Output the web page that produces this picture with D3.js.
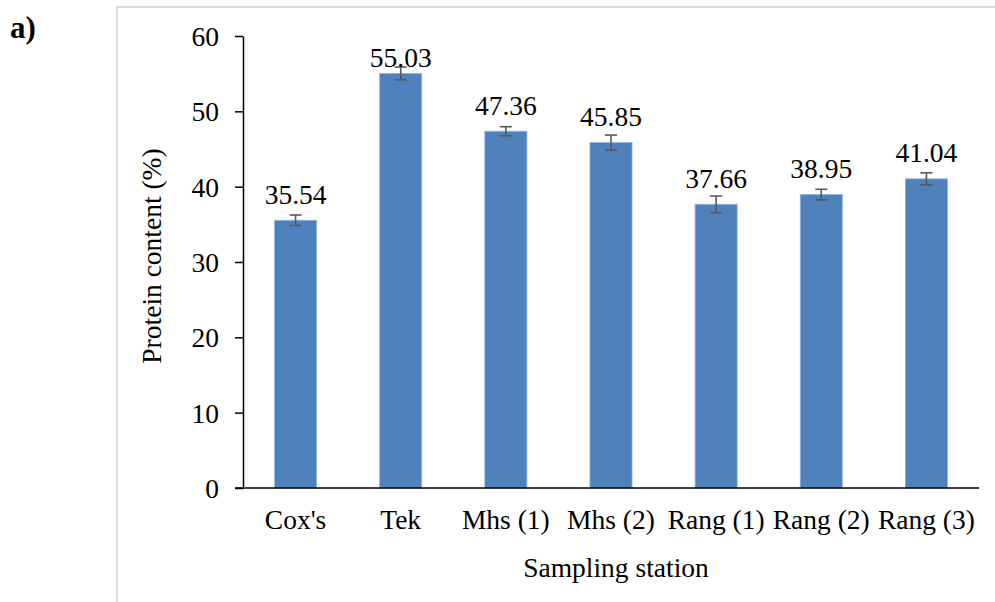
<!DOCTYPE html>
<html>
<head>
<meta charset="utf-8">
<script src="https://cdn.jsdelivr.net/npm/d3@7"></script>
<style>
  body { margin: 0; background: #fff; }
</style>
</head>
<body>
<div id="wrapper"></div>
<script>
var stations = ["Cox's", "Tek", "Mhs (1)", "Mhs (2)", "Rang (1)", "Rang (2)", "Rang (3)"];
var protein = [35.54, 55.03, 47.36, 45.85, 37.66, 38.95, 41.04];
var errors = [0.7, 0.85, 0.6, 1.0, 1.1, 0.7, 0.8];
var yTicks = [0, 10, 20, 30, 40, 50, 60];

var FONT = "'Liberation Serif', 'DejaVu Serif', 'Times New Roman', serif";
var FS = 27.5;
var W = 995, H = 602;
var svg = d3.select('#wrapper')
  .append('svg')
  .attr('width', W)
  .attr('height', H)
  .attr('font-family', FONT)
  .attr('font-size', FS);

// outer frame
svg.append('rect')
  .attr('x', 117).attr('y', 7)
  .attr('width', W + 10).attr('height', H + 10)
  .attr('fill', 'none')
  .attr('stroke', '#d9d9d9')
  .attr('stroke-width', 2);

svg.append('text')
  .attr('x', 10).attr('y', 38)
  .attr('font-size', 31)
  .attr('font-weight', 'bold')
  .text('a)');

var x = d3.scaleBand().domain(stations).range([243, 979]).paddingInner(0.6).paddingOuter(0.3);
var y = d3.scaleLinear().domain([0, 60]).range([488, 36]);

// y axis
var yAxis = svg.append('g')
  .attr('transform', 'translate(243,0)')
  .call(d3.axisLeft(y).tickValues(yTicks).tickSize(8).tickSizeOuter(0).tickPadding(16));
yAxis.attr('font-family', FONT).attr('font-size', FS);
yAxis.select('.domain').attr('stroke', '#000').attr('stroke-width', 1.5);
yAxis.selectAll('line').attr('stroke', '#000').attr('stroke-width', 1.5);
yAxis.selectAll('text').attr('fill', '#000').attr('dy', '0.35em');

// bars
svg.selectAll('rect.bar')
  .data(protein)
  .enter()
  .append('rect')
  .attr('class', 'bar')
  .attr('x', function(d, i){ return x(stations[i]); })
  .attr('width', x.bandwidth())
  .attr('y', function(d){ return y(d); })
  .attr('height', function(d){ return y(0) - y(d); })
  .attr('fill', '#4f81bd')
  .attr('stroke', '#8eb2dc')
  .attr('stroke-width', 0.8);

// x axis
svg.append('line')
  .attr('x1', 235).attr('x2', 979)
  .attr('y1', y(0)).attr('y2', y(0))
  .attr('stroke', '#000').attr('stroke-width', 1.5);

svg.selectAll('text.cat')
  .data(stations)
  .enter()
  .append('text')
  .attr('class', 'cat')
  .attr('x', function(d){ return x(d) + x.bandwidth() / 2; })
  .attr('y', 529)
  .attr('text-anchor', 'middle')
  .text(function(d){ return d; });

// error bars
var eb = svg.selectAll('g.err')
  .data(protein)
  .enter()
  .append('g')
  .attr('class', 'err')
  .attr('stroke', '#595959')
  .attr('stroke-width', 1.6);
eb.append('line')
  .attr('x1', function(d, i){ return x(stations[i]) + x.bandwidth() / 2; })
  .attr('x2', function(d, i){ return x(stations[i]) + x.bandwidth() / 2; })
  .attr('y1', function(d, i){ return y(d + errors[i]); })
  .attr('y2', function(d, i){ return y(d - errors[i]); });
[1, -1].forEach(function(s){
  eb.append('line')
    .attr('x1', function(d, i){ return x(stations[i]) + x.bandwidth() / 2 - 6; })
    .attr('x2', function(d, i){ return x(stations[i]) + x.bandwidth() / 2 + 6; })
    .attr('y1', function(d, i){ return y(d + s * errors[i]); })
    .attr('y2', function(d, i){ return y(d + s * errors[i]); });
});

// value labels (kept inside the plot area near the top)
svg.selectAll('text.val')
  .data(protein)
  .enter()
  .append('text')
  .attr('class', 'val')
  .attr('x', function(d, i){ return x(stations[i]) + x.bandwidth() / 2; })
  .attr('y', function(d){ return Math.max(y(d) - 16.5, y(60) + 30.5); })
  .attr('text-anchor', 'middle')
  .text(function(d){ return d.toFixed(2); });

// axis titles
svg.append('text')
  .attr('transform', 'translate(161,256) rotate(-90)')
  .attr('text-anchor', 'middle')
  .text('Protein content (%)');

svg.append('text')
  .attr('x', 616).attr('y', 577)
  .attr('text-anchor', 'middle')
  .text('Sampling station');
</script>
</body>
</html>
